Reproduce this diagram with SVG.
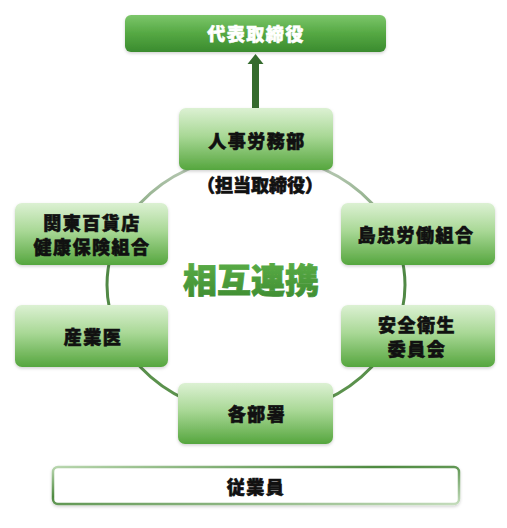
<svg xmlns="http://www.w3.org/2000/svg" width="507" height="528" viewBox="0 0 507 528">
<style>
.n{fill:url(#gn);filter:url(#sh)}
.t{font-family:"Noto Sans CJK JP","Noto Sans CJK SC",sans-serif;font-weight:900;font-size:18px;fill:#111;stroke:#111;stroke-width:0.6px;text-anchor:middle;letter-spacing:1.5px}
.w{fill:#fff;stroke:#fff}
</style>
<defs>
<linearGradient id="gn" x1="0" y1="0" x2="0" y2="1">
<stop offset="0" stop-color="#dcf1d3"/>
<stop offset="0.45" stop-color="#a9d896"/>
<stop offset="1" stop-color="#55a63e"/>
</linearGradient>
<linearGradient id="gt" x1="0" y1="0" x2="0" y2="1">
<stop offset="0" stop-color="#7cc66a"/>
<stop offset="0.5" stop-color="#55a843"/>
<stop offset="1" stop-color="#3a8b2e"/>
</linearGradient>
<linearGradient id="gr" gradientUnits="userSpaceOnUse" x1="0" y1="155" x2="0" y2="415">
<stop offset="0" stop-color="#c2cfbf"/>
<stop offset="0.45" stop-color="#4f8744"/>
<stop offset="1" stop-color="#5e944f"/>
</linearGradient>
<linearGradient id="gb" x1="0" y1="0" x2="1" y2="1">
<stop offset="0" stop-color="#b8d6ae"/>
<stop offset="0.4" stop-color="#4e8a40"/>
<stop offset="1" stop-color="#c4dcbc"/>
</linearGradient>
<linearGradient id="gx" x1="0" y1="0" x2="0" y2="1">
<stop offset="0" stop-color="#5fb24a"/>
<stop offset="1" stop-color="#3c8a30"/>
</linearGradient>
<filter id="sh" x="-10%" y="-10%" width="120%" height="130%">
<feDropShadow dx="0" dy="1.5" stdDeviation="1.5" flood-color="#000" flood-opacity="0.18"/>
</filter>
</defs>
<rect width="507" height="528" fill="#fff"/>
<g id="connectors">
<ellipse cx="256" cy="285" rx="149" ry="130" fill="none" stroke="url(#gr)" stroke-width="3"/>
<rect x="252" y="62" width="7" height="47" fill="#356b2e"/>
<polygon points="247.5,64 263.5,64 255.5,54" fill="#356b2e"/>
</g>
<g id="node-ceo">
<rect x="125" y="15" width="261" height="37" rx="6" fill="url(#gt)" filter="url(#sh)"/>
<text class="t w" x="256" y="41">代表取締役</text>
</g>
<g id="node-hr">
<rect class="n" x="179" y="108" width="154" height="62" rx="7"/>
<text class="t" x="257" y="148">人事労務部</text>
</g>
<g id="label-hr-sub">
<text class="t" x="260" y="192" style="letter-spacing:0">（担当取締役）</text>
</g>
<g id="node-kenpo">
<rect class="n" x="15" y="203" width="153" height="62" rx="7"/>
<text class="t" x="92" y="230">関東百貨店</text>
<text class="t" x="92" y="254">健康保険組合</text>
</g>
<g id="node-union">
<rect class="n" x="341" y="203" width="154" height="62" rx="7"/>
<text class="t" x="416" y="242">島忠労働組合</text>
</g>
<g id="node-doctor">
<rect class="n" x="15" y="305" width="153" height="62" rx="7"/>
<text class="t" x="93" y="344">産業医</text>
</g>
<g id="node-safety">
<rect class="n" x="341" y="305" width="154" height="62" rx="7"/>
<text class="t" x="417" y="332">安全衛生</text>
<text class="t" x="417" y="356">委員会</text>
</g>
<g id="node-depts">
<rect class="n" x="178" y="383" width="155" height="61" rx="7"/>
<text class="t" x="257" y="421">各部署</text>
</g>
<g id="center-label">
<text x="251" y="293" style="font-family:'Noto Sans CJK JP','Noto Sans CJK SC',sans-serif;font-weight:900;font-size:34px;text-anchor:middle;stroke-width:0.8px" fill="url(#gx)" stroke="url(#gx)">相互連携</text>
</g>
<g id="node-employees">
<rect x="53" y="467" width="406" height="37" rx="5" fill="#fff" stroke="url(#gb)" stroke-width="2.5" filter="url(#sh)"/>
<text class="t" x="256" y="494">従業員</text>
</g>
</svg>
